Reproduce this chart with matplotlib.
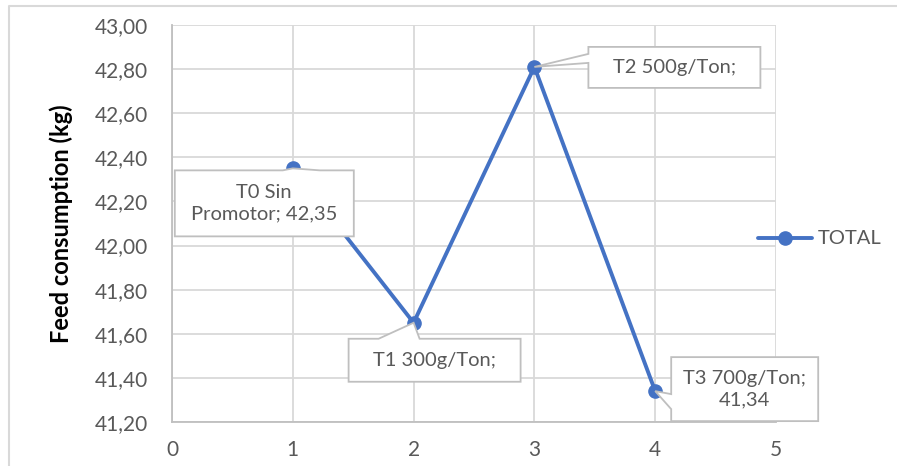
import matplotlib
matplotlib.use("Agg")
import matplotlib.pyplot as plt
from matplotlib.patches import Polygon
from matplotlib.lines import Line2D
from matplotlib.transforms import IdentityTransform

plt.rcParams['font.family'] = ['Lato', 'DejaVu Sans']

x_vals = [1, 2, 3, 4]
totals = [42.35, 41.65, 42.81, 41.34]
point_labels = ["T0 Sin\nPromotor; 42,35", "T1 300g/Ton;", "T2 500g/Ton;", "T3 700g/Ton;\n41,34"]
series_name = "TOTAL"
y_label = "Feed consumption (kg)"
x_ticks = [0, 1, 2, 3, 4, 5]
y_ticks = [41.2, 41.4, 41.6, 41.8, 42.0, 42.2, 42.4, 42.6, 42.8, 43.0]

W, H = 897, 466
fig = plt.figure(figsize=(W / 100, H / 100), dpi=100)
L, R, T, B = 172, 776, 25, 422
ax = fig.add_axes([L / W, 1 - B / H, (R - L) / W, (B - T) / H])

blue = '#4472C4'
grey_txt = '#595959'
grid_c = '#D9D9D9'
spine_c = '#BFBFBF'

ax.plot(x_vals, totals, color=blue, lw=2.8, marker='o', ms=9.5, zorder=3,
        solid_capstyle='round')
ax.set_xlim(0, 5)
ax.set_ylim(41.2, 43.0)
ax.set_xticks(x_ticks)
ax.set_yticks(y_ticks)
ax.set_yticklabels([f"{v:.2f}".replace('.', ',') for v in y_ticks])
ax.tick_params(length=0, labelsize=15, colors=grey_txt)
ax.tick_params(axis='y', pad=17)
ax.tick_params(axis='x', pad=13)
ax.grid(True, color=grid_c, lw=1.3)
ax.set_axisbelow(True)
for s in ['top', 'right']:
    ax.spines[s].set_visible(False)
for s in ['left', 'bottom']:
    ax.spines[s].set_color(spine_c)
    ax.spines[s].set_linewidth(1.3)
ax.set_ylabel(y_label, fontsize=17, fontweight='bold', color='black')
ax.yaxis.set_label_coords((73 - L) / (R - L), (B - 224) / (B - T))

# figure border (top & left)
fig.add_artist(Line2D([9 / W, 9 / W, 1], [0, 1 - 6 / H, 1 - 6 / H],
                      transform=fig.transFigure, color=grid_c, lw=1.5))

# callout label boxes: (box dx0, dx1, dy0, dy1 in px, rel to point; y down), wedge spec
boxes = [
    ((-118, 61, 2, 68), ('top', -10, 27)),
    ((-65, 107, 16, 59), ('top', -35, 6)),
    ((54, 226, -20, 21), ('left', -13, -4)),
    ((16, 163, -34, 30), ('left', 3, 18)),
]

for xv, yv, lab, (bx, wedge) in zip(x_vals, totals, point_labels, boxes):
    px, py = ax.transData.transform((xv, yv))
    x0, x1 = px + bx[0], px + bx[1]
    ytop, ybot = py - bx[2], py - bx[3]  # display coords y up
    side, a, b = wedge
    if side == 'top':
        verts = [(x0, ytop), (px + a, ytop), (px, py), (px + b, ytop),
                 (x1, ytop), (x1, ybot), (x0, ybot)]
    else:
        verts = [(x0, ytop), (x1, ytop), (x1, ybot), (x0, ybot),
                 (x0, py - b), (px, py), (x0, py - a)]
    poly = Polygon(verts, closed=True, facecolor='white', edgecolor='#BFBFBF',
                   lw=1.3, transform=IdentityTransform(), zorder=4)
    fig.add_artist(poly)
    fig.text((x0 + x1) / 2 / W, (ytop + ybot) / 2 / H, lab, ha='center', va='center',
             fontsize=14.5, color=grey_txt, linespacing=1.35, zorder=5)

# legend
ly = 1 - 238 / H
fig.add_artist(Line2D([758 / W, 812 / W], [ly, ly], transform=fig.transFigure,
                      color=blue, lw=2.8, solid_capstyle='round'))
fig.add_artist(Line2D([785 / W], [ly], transform=fig.transFigure, color=blue,
                      marker='o', ms=9.5, lw=0))
fig.text(818 / W, ly, series_name, fontsize=14.5, color=grey_txt, va='center', ha='left')

fig.savefig('out.png', dpi=100)
